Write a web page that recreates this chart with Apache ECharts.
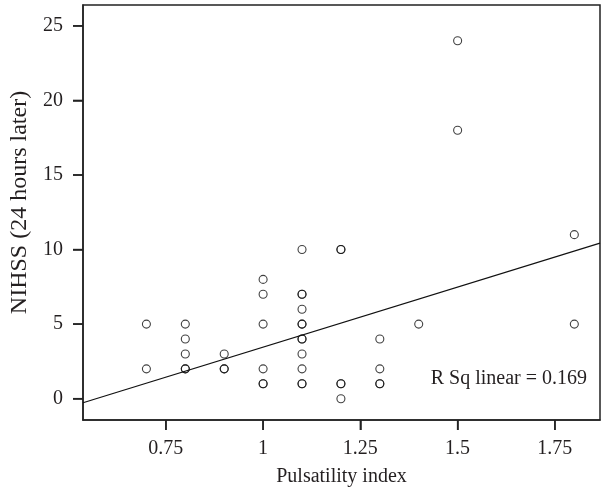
<!DOCTYPE html>
<html>
<head>
<meta charset="utf-8">
<script src="https://cdn.jsdelivr.net/npm/echarts@6/dist/echarts.min.js"></script>
<style>html,body{margin:0;padding:0;background:#fff}#c{width:605px;height:492px}</style>
</head>
<body>
<div id="c"></div>
<script>
// Scatter data (duplicates repeated)
var pulsatility = [0.7,0.7, 0.8,0.8,0.8,0.8,0.8, 0.9,0.9,0.9, 1.0,1.0,1.0,1.0,1.0,1.0,
  1.1,1.1,1.1,1.1,1.1,1.1,1.1,1.1,1.1,1.1,1.1,1.1, 1.2,1.2,1.2,1.2,1.2, 1.3,1.3,1.3,1.3, 1.4, 1.5,1.5, 1.8,1.8];
var nihss = [5,2, 5,4,3,2,2, 3,2,2, 8,7,5,2,1,1,
  10,7,7,6,5,5,4,4,3,2,1,1, 10,10,1,1,0, 4,2,1,1, 5, 24,18, 11,5];
// Fit line endpoints
var fitX = [0.537, 1.866];
var fitY = [-0.27, 10.43];
var xTicks = [0.75, 1, 1.25, 1.5, 1.75];
var yTicks = [0, 5, 10, 15, 20, 25];
var xRange = [0.537, 1.866];
var yRange = [-1.43, 26.4];
var rSqLabel = 'R Sq linear = 0.169';
var xTitle = 'Pulsatility index';
var yTitle = 'NIHSS (24 hours later)';

var font = '"Liberation Serif","DejaVu Serif",serif';
var txt = '#231f20';
var axisColor = '#222';
function tickRenderer(dx, dy){
  return function(params, api){
    var p = api.coord([api.value(0), api.value(1)]);
    return {type:'line', silent:true,
      shape:{x1:p[0], y1:p[1], x2:p[0]+dx, y2:p[1]+dy},
      style:{stroke:axisColor, lineWidth:1.5}};
  };
}
var chart = echarts.init(document.getElementById('c'), null, {renderer:'canvas'});
chart.setOption({
  animation:false,
  backgroundColor:'#fff',
  grid:{left:83,right:5,top:5,bottom:72,show:true,borderColor:axisColor,borderWidth:1.5,backgroundColor:'transparent'},
  xAxis:{type:'value',min:xRange[0],max:xRange[1],position:'bottom',
    name:xTitle,nameLocation:'middle',nameGap:47,
    nameTextStyle:{fontFamily:font,fontSize:20,color:txt},
    axisLine:{show:true,onZeroAxisIndex:1,lineStyle:{color:axisColor,width:1.5}},splitLine:{show:false},
    axisTick:{show:true,length:10,customValues:xTicks,lineStyle:{color:axisColor,width:1.5}},
    axisLabel:{customValues:xTicks,fontFamily:font,fontSize:20,color:txt,margin:19}},
  yAxis:[{type:'value',min:yRange[0],max:yRange[1],position:'left',
    name:yTitle,nameLocation:'middle',nameGap:44,nameRotate:90,
    nameTextStyle:{fontFamily:font,fontSize:24,color:txt,padding:[0,0,0,20]},
    axisLine:{show:true,lineStyle:{color:axisColor,width:1.5}},splitLine:{show:false},
    axisTick:{show:true,length:10,customValues:yTicks,lineStyle:{color:axisColor,width:1.5}},
    axisLabel:{customValues:yTicks,fontFamily:font,fontSize:20,color:txt,margin:20}},
    {type:'value',min:1,max:2,show:false,splitLine:{show:false}}],
  series:[
    {type:'custom',name:'xticks',silent:true,clip:false,z:1,
      data:xTicks.map(function(v){return [v, yRange[0]];}),renderItem:tickRenderer(0,10)},
    {type:'custom',name:'yticks',silent:true,clip:false,z:1,
      data:yTicks.map(function(v){return [xRange[0], v];}),renderItem:tickRenderer(-10,0)},
    {type:'line',data:fitX.map(function(x,i){return [x,fitY[i]];}),symbol:'none',
      lineStyle:{color:'#111',width:1.2},z:2,silent:true},
    {type:'scatter',data:pulsatility.map(function(x,i){return [x,nihss[i]];}),
      symbol:'circle',symbolSize:8,
      itemStyle:{color:'rgba(255,255,255,0)',borderColor:'#111',borderWidth:1.1},z:3}
  ],
  graphic:[
    {type:'text',right:18,top:369,style:{text:rSqLabel,fontFamily:font,fontSize:20,fill:txt}}
  ]
});
</script>
</body>
</html>
